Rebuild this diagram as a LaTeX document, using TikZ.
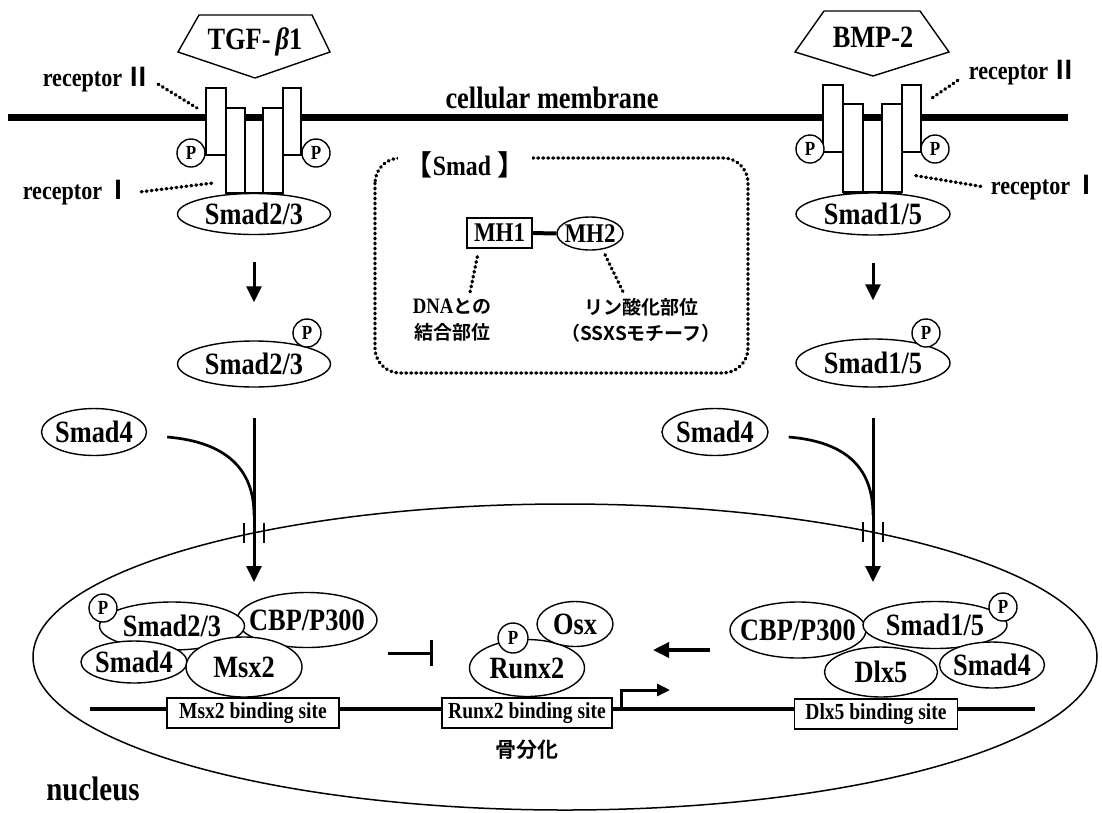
\documentclass[tikz,border=0pt]{standalone}
\usepackage{fontspec}
\setmainfont{Liberation Serif}[FakeStretch=0.85]
\newfontfamily\jpfont{Noto Sans CJK JP}[BoldFont={* Bold}]
\usetikzlibrary{shapes.geometric,arrows.meta}

\begin{document}
\begin{tikzpicture}[x=1pt, y=-1pt,
    mol/.style 2 args={draw, ellipse, fill=white, line width=1.4pt, minimum width=#1, minimum height=#2, inner sep=0pt},
    phos/.style={draw, circle, fill=white, line width=1.4pt, minimum size=28pt, inner sep=0pt, font=\fontsize{20}{20}\selectfont\bfseries},
    site/.style={draw, rectangle, fill=white, line width=1.3pt, minimum width=#1, minimum height=30pt, inner sep=0pt, font=\fontsize{23}{23}\selectfont\bfseries},
    every label/.style={font=\fontsize{31}{31}\selectfont\bfseries, inner sep=0pt},
    big/.style={font=\fontsize{31}{31}\selectfont\bfseries, inner sep=0pt},
    rlab/.style={font=\fontsize{26}{26}\selectfont\bfseries, inner sep=0pt},
    jp/.style={font=\fontsize{19}{26}\selectfont\bfseries\jpfont, align=center, inner sep=0pt},
    rec/.style={draw, fill=white, line width=1.3pt},
    lig/.style={draw, fill=white, line width=1.4pt},
    dots/.style={line width=3.4pt, line cap=round, dash pattern=on 0.8pt off 4.2pt},
    arr/.style={line width=3pt, -{Triangle[length=16pt,width=15pt]}},
    inh/.style={line width=3pt, -{Bar[width=26pt]}},
  ]
  \fill[white] (0,0) rectangle (1102,812);

  % cell membrane
  \draw[line width=7pt] (8,117) -- (1068,117);
  \node[big] (memb) at (552,98) {cellular membrane};

  % ligands
  \draw[lig] (199,15) -- (312,15) -- (330,52) -- (255,78) -- (178,52) -- cycle;
  \node[big] (tgf) at (255,42) {TGF-\,\textit{β}1};
  \draw[lig] (824,11) -- (920,11) -- (949,52) -- (873,76) -- (795,52) -- cycle;
  \node[big] (bmp) at (873,37) {BMP-2};

  % TGF-beta receptors
  \draw[rec] (206,88) rectangle (226,155);
  \draw[rec] (226,108) rectangle (245,193);
  \draw[rec] (263,108) rectangle (283,193);
  \draw[rec] (283,88) rectangle (301,155);
  \draw[line width=3pt] (226,193) -- (283,193);
  \node[mol={153}{41}, label=center:Smad2/3] (smadM1) at (254,214) {};
  \node[phos] (pA1) at (191,153) {P};
  \node[phos] (pA2) at (316,153) {P};

  % BMP receptors
  \draw[rec] (823,85) rectangle (843,152);
  \draw[rec] (843,104) rectangle (863,192);
  \draw[rec] (882,104) rectangle (902,192);
  \draw[rec] (902,85) rectangle (921,152);
  \draw[line width=3pt] (843,192) -- (902,192);
  \node[mol={154}{42}, label=center:Smad1/5] (smadM2) at (873,214) {};
  \node[phos] (pB1) at (810,149) {P};
  \node[phos] (pB2) at (935,149) {P};

  % receptor labels
  \node[rlab] (rIIa) at (97,80) {receptor\hspace{3pt}{\jpfont Ⅱ}};
  \node[rlab] (rIa) at (77,193) {receptor\hspace{3pt}{\jpfont Ⅰ}};
  \node[rlab] (rIIb) at (1023,73) {receptor\hspace{3pt}{\jpfont Ⅱ}};
  \node[rlab] (rIb) at (1045,188) {receptor\hspace{3pt}{\jpfont Ⅰ}};
  \coordinate (tipIIa) at (197,108);
  \coordinate (tipIa) at (213,183);
  \coordinate (tipIIb) at (932,98);
  \coordinate (tipIb) at (912,175);
  \draw[dots, shorten <=8pt] (rIIa.east) -- (tipIIa);
  \draw[dots, shorten <=10pt] (rIa.east) -- (tipIa);
  \draw[dots, shorten <=13pt] (rIIb.west) -- (tipIIb);
  \draw[dots, shorten <=10pt] (rIb.west) -- (tipIb);

  % Smad domain box
  \draw[dots, rounded corners=25pt] (375,158) rectangle (748,373);
  \node[big, font=\fontsize{28}{28}\selectfont\bfseries, fill=white, inner xsep=7pt] (smadT) at (465,165) {{\jpfont 【}Smad {\jpfont 】}};
  \node[draw, rectangle, line width=1.4pt, minimum width=65, minimum height=30, inner sep=0pt, font=\fontsize{27}{27}\selectfont\bfseries] (mh1) at (499.5,233) {MH1};
  \node[mol={66}{33}, label={[font=\fontsize{27}{27}\selectfont\bfseries]center:MH2}] (mh2) at (590,233.5) {};
  \draw[line width=4pt] (mh1) -- (mh2);
  \node[jp] (dna) at (452,320) {{\rmfamily\fontsize{22}{26}\selectfont DNA}との\\結合部位};
  \node[jp] (phsite) at (641,320) {リン酸化部位\\（SSXSモチーフ）};
  \draw[dots] ([shift={(11,8)}]mh1.south west) -- ([shift={(18,-6)}]dna.north);
  \draw[dots] ([shift={(15,4)}]mh2.south) -- ([shift={(-18,-6)}]phsite.north);

  % phosphorylated R-Smads
  \node[mol={153}{46}, label=center:Smad2/3] (smadP1) at (254,364) {};
  \node[phos] (pP1) at (307,333) {P};
  \node[mol={154}{48}, label=center:Smad1/5] (smadP2) at (873,363) {};
  \node[phos] (pP2) at (926,333) {P};
  \draw[arr, shorten <=27pt, shorten >=38pt] (smadM1.south) -- (smadP1.north);
  \draw[arr, shorten <=27pt, shorten >=38pt] (smadM2.south) -- (smadP2.north);

  % Smad4 joins and enters the nucleus
  \node[mol={105}{47}, label=center:Smad4] (s4a) at (94,432) {};
  \node[mol={106}{47}, label=center:Smad4] (s4b) at (715,432) {};
  \coordinate (joinL) at (254,515);
  \coordinate (joinR) at (873,515);
  \coordinate (entryL) at (254,582);
  \coordinate (entryR) at (873,582);
  \draw[line width=2.7pt] ([shift={(20,5)}]s4a.east) .. controls +(60,5) and +(0,-45) .. (joinL);
  \draw[line width=2.7pt] ([shift={(20,5)}]s4b.east) .. controls +(60,5) and +(0,-45) .. (joinR);
  \draw[arr, shorten <=30pt] (smadP1.south) -- (entryL);
  \draw[arr, shorten <=30pt] (smadP2.south) -- (entryR);

  % nucleus
  \draw[line width=1.5pt] (565,657) ellipse [x radius=532, y radius=153];
  \draw[line width=1.5pt] (244,523) -- (244,543) (264,523) -- (264,543);
  \draw[line width=1.5pt] (863,522) -- (863,542) (883,522) -- (883,542);
  \node[font=\fontsize{34}{34}\selectfont\bfseries] (nuc) at (93,789) {nucleus};

  % DNA with binding sites
  \coordinate (dnaL) at (90,709);
  \coordinate (dnaR) at (1035,709);
  \draw[line width=3.5pt] (dnaL) -- (dnaR);
  \node[site=172] (msxSite) at (253,713) {Msx2 binding site};
  \node[site=170] (runxSite) at (527,713) {Runx2 binding site};
  \node[site=163] (dlxSite) at (876,714) {Dlx5 binding site};
  \coordinate (tss) at (621,709);
  \coordinate (tssEnd) at (670,690);
  \draw[line width=3pt, -{Triangle[length=13pt,width=12pt]}] (tss) |- (tssEnd);
  \node[jp, font=\fontsize{21}{21}\selectfont\bfseries\jpfont] (osteo) at (527,750) {骨分化};

  % TGF-beta side complex
  \node[mol={140}{55}, label=center:CBP/P300] (cbp1) at (307,620) {};
  \node[mol={145}{48}, label=center:Smad2/3] (smadN1) at (172,626) {};
  \node[mol={106}{42}, label=center:Smad4] (s4n1) at (134,662) {};
  \node[mol={116}{60}, label=center:Msx2] (msx) at (244,667) {};
  \node[phos] (pN1) at (103,608) {P};

  % Runx2 / Osx
  \node[mol={115}{57}, label=center:Runx2] (runx) at (527,668) {};
  \node[mol={76}{45}, label=center:Osx] (osx) at (575,624) {};
  \node[phos, minimum size=30pt] (pR) at (513,638) {P};

  % BMP side complex
  \node[mol={136}{56}, label=center:CBP/P300] (cbp2) at (798,630) {};
  \node[mol={144}{47}, label=center:Smad1/5] (smadN2) at (935,625) {};
  \node[mol={113}{50}, label=center:Dlx5] (dlx) at (881,672) {};
  \node[mol={105}{46}, label=center:Smad4] (s4n2) at (992,665) {};
  \node[phos] (pN2) at (1003,607) {P};

  % regulation of Runx2
  \coordinate (inhA) at (388,653);
  \coordinate (inhB) at (433,653);
  \draw[inh] (inhA) -- (inhB);
  \coordinate (actA) at (710,650);
  \coordinate (actB) at (653,650);
  \draw[arr, line width=3.5pt] (actA) -- (actB);
\end{tikzpicture}
\end{document}
